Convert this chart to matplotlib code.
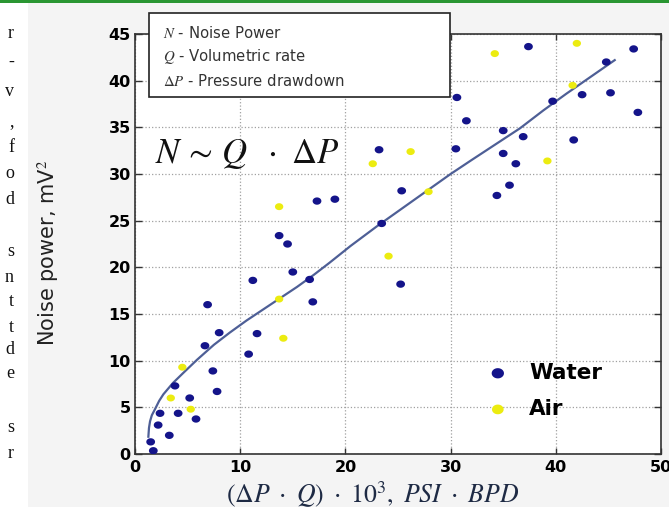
import numpy as np
import matplotlib
matplotlib.use("Agg")
from matplotlib import pyplot as plt
from matplotlib.patches import Rectangle

plt.rcParams['mathtext.fontset'] = 'stix'

water_x = [1.74, 1.49, 3.26, 2.2, 2.38, 4.1, 5.8, 5.2, 3.8, 7.8, 7.4, 6.65, 8.0, 6.9,
           10.8, 11.6, 11.2, 15.0, 16.6, 16.9, 13.7, 14.5, 17.3, 19.0, 23.45, 25.35,
           25.25, 23.2, 37.4, 47.4, 44.8, 30.6, 31.5, 30.5, 35.0, 36.9, 35.0, 36.2,
           35.6, 34.4, 39.7, 42.5, 45.2, 47.8, 41.7]
water_y = [0.35, 1.3, 2.0, 3.1, 4.36, 4.36, 3.75, 6.0, 7.3, 6.7, 8.9, 11.6, 13.0, 16.0,
           10.7, 12.9, 18.6, 19.5, 18.7, 16.3, 23.4, 22.5, 27.1, 27.3, 24.7, 28.2,
           18.2, 32.6, 43.65, 43.4, 42.0, 38.2, 35.7, 32.7, 34.65, 34.0, 32.2, 31.1,
           28.8, 27.7, 37.8, 38.5, 38.7, 36.6, 33.65]

air_x = [3.4, 5.3, 4.5, 13.7, 14.1, 13.7, 24.1, 22.6, 26.2, 27.9, 34.2, 42.0, 41.6, 39.2]
air_y = [6.0, 4.8, 9.3, 16.6, 12.4, 26.5, 21.2, 31.1, 32.4, 28.1, 42.9, 44.0, 39.5, 31.4]

# fitted trend line
fit_x = [1.27, 1.33, 1.43, 1.6, 1.9, 2.3, 2.7, 3.6, 4.6, 5.9, 7.5, 9.0, 10.6, 12.2,
         13.8, 15.4, 17.0, 18.5, 20.5, 23.0, 25.5, 28.0, 30.0, 32.0, 34.3, 36.6, 38.8,
         41.0, 43.3, 45.6]
fit_y = [1.85, 2.8, 3.5, 4.15, 4.8, 5.7, 6.4, 7.6, 8.7, 10.1, 11.7, 13.0, 14.3, 15.5,
         16.7, 17.9, 19.2, 20.5, 22.3, 24.4, 26.4, 28.4, 30.0, 31.5, 33.2, 34.9, 36.8,
         38.6, 40.4, 42.2]

x_ticks = [0, 10, 20, 30, 40, 50]
y_ticks = [0, 5, 10, 15, 20, 25, 30, 35, 40, 45]

box_lines = [r'$N$ - Noise Power', r'$Q$ - Volumetric rate', r'$\Delta P$ - Pressure drawdown']

# bits of the page text cut off at the left edge
page_letters = ['r', '-', 'v', ',', 'f', 'o', 'd', 's', 'n', 't', 't', 'd', 'e', 's', 'r']
page_rows = [33, 62, 92, 122, 148, 173, 200, 252, 277, 302, 327, 350, 374, 428, 453]

W, H = 669, 513
fig = plt.figure(figsize=(W / 100, H / 100), dpi=100)
fig.patch.set_facecolor('white')

# slide background and top rule
fig.patches.append(Rectangle((28 / W, 1 - 507 / H), (W - 28) / W, (507 - 3) / H,
                             transform=fig.transFigure, facecolor='#f4f4f4',
                             edgecolor='none', zorder=-2))
fig.patches.append(Rectangle((0, 1 - 2.5 / H), 1, 2.5 / H, transform=fig.transFigure,
                             facecolor='#2a9632', edgecolor='none', zorder=-1))

for ch, row in zip(page_letters, page_rows):
    fig.text(14 / W, 1 - row / H, ch, ha='right', va='center', fontsize=13,
             family='Liberation Serif', color='#111111')

ax = fig.add_axes([135 / W, 1 - 454 / H, (661 - 135) / W, (454 - 34) / H])
ax.set_facecolor('white')
ax.set_zorder(1)

# the screenshot is a bit stretched sideways, so the dots are slightly oval
t = np.linspace(0, 2 * np.pi, 41)
oval = np.column_stack([1.2 * np.cos(t), np.sin(t)])

ax.plot(fit_x, fit_y, color='#4e5f96', lw=1.6, zorder=3)
ax.scatter(water_x, water_y, s=40, marker=oval, color='#14148a', edgecolors='none',
           zorder=4, label='Water')
ax.scatter(air_x, air_y, s=36, marker=oval, color='#ecec10', edgecolors='none',
           zorder=4, label='Air')

ax.set_xlim(0, 50)
ax.set_ylim(0, 45)
ax.set_xticks(x_ticks)
ax.set_yticks(y_ticks)
ax.grid(True, color='#a0a0a0', ls=':', lw=0.9)
ax.set_axisbelow(True)

for sp in ax.spines.values():
    sp.set_color('#333333')
    sp.set_linewidth(1.2)
ax.tick_params(axis='y', direction='out', length=5, width=1, color='#333333', pad=3)
ax.tick_params(axis='x', direction='in', length=4, width=1, color='#333333', pad=4)
ax.tick_params(right=True, top=True, which='both', direction='in')
for lab in ax.get_xticklabels() + ax.get_yticklabels():
    lab.set_fontfamily('DejaVu Sans')
    lab.set_fontweight('bold')
    lab.set_fontsize(11.5)

ax.set_ylabel('Noise power, mV$^2$', fontsize=15, family=['Liberation Sans Narrow', 'DejaVu Sans'],
              color='#222222')
ax.yaxis.set_label_coords(-0.14, 0.48)
ax.set_xlabel(r'$(\Delta P\ \cdot\ Q)\ \cdot\ 10^3,\ PSI\ \cdot\ BPD$', fontsize=18.5,
              color='#1e2a44')
ax.xaxis.set_label_coords(0.452, -0.06)

ax.text(0.038, 0.715, r'$N\,{\sim}\,Q\ \ \cdot\ \Delta P$', transform=ax.transAxes,
        fontsize=25, color='#111111', va='center')

leg = ax.legend(loc='center left', bbox_to_anchor=(0.612, 0.15), frameon=False,
                prop={'family': 'DejaVu Sans', 'weight': 'bold', 'size': 15.5},
                markerscale=1.4, handletextpad=0.45, labelspacing=0.75)

# definition box overlapping the top of the axes
fig.patches.append(Rectangle((149 / W, 1 - 97 / H), (450 - 149) / W, (97 - 13) / H,
                             transform=fig.transFigure, facecolor='white',
                             edgecolor='#222222', lw=1.2, zorder=10))
for i, line in enumerate(box_lines):
    fig.text(163 / W, 1 - (32.5 + 24.3 * i) / H, line, fontsize=10.7, family='DejaVu Sans',
             color='#333333', va='center', zorder=11)

fig.savefig('out.png', dpi=100, facecolor=fig.get_facecolor())
